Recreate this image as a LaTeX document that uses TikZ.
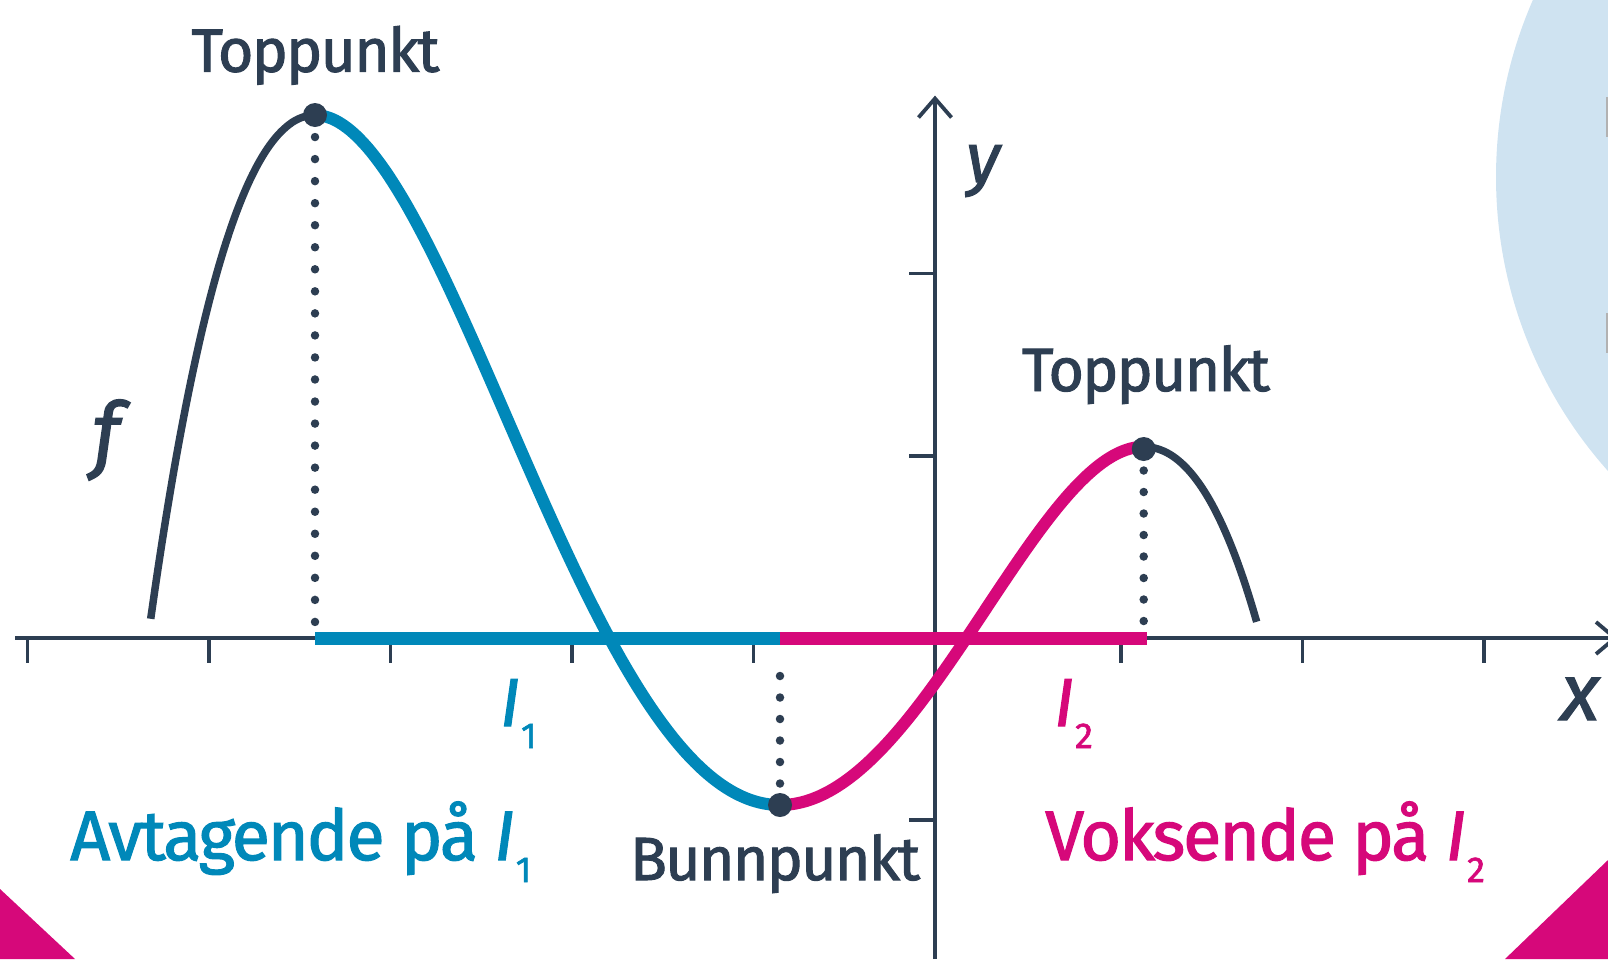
\documentclass[tikz,border=0pt]{standalone}
\usepackage{fontspec}
\setmainfont{Fira Sans}[FakeBold=1.6, LetterSpace=-3]
\definecolor{navy}{RGB}{45,62,82}
\definecolor{fblue}{RGB}{0,136,185}
\definecolor{fmag}{RGB}{214,8,122}
\definecolor{lblue}{RGB}{207,227,241}
\tikzset{
  axisline/.style={navy, line width=3.8pt},
  dotline/.style={navy, line width=8.5pt, line cap=round, dash pattern=on 0pt off 21.5pt},
  bigdot/.style={circle, fill=navy, minimum size=24pt, inner sep=0pt},
  lab/.style={navy, inner sep=0pt, font=\fontsize{61}{61}\selectfont},
  biglab/.style={inner sep=0pt, font=\fontsize{70}{70}\selectfont},
  band/.style={line width=12.7pt},
}
\newcommand{\subdigit}[1]{\kern1pt\raisebox{-22pt}{\fontsize{36}{36}\selectfont\upshape #1}}
\begin{document}
\begin{tikzpicture}[x=1pt,y=-1pt,
  declare function={f(\x)=((((-0.10321*(\x)-0.42935)*(\x)+0.41144)*(\x)+1.38504)*(\x)-0.2498);}]
\path[use as bounding box] (0,0) rectangle (1608,959);
\clip (0,0) rectangle (1608,959);
% background decorations
\fill[lblue] (1938,177) circle[radius=442];
\fill[gray!60] (1606,97) rectangle (1608,137);
\fill[gray!60] (1606,313) rectangle (1608,353);
\fill[fmag] (0,889) -- (75,959) -- (0,959) -- cycle;
\fill[fmag] (1608,860) -- (1505,959) -- (1608,959) -- cycle;
% axes
\coordinate (xstart) at (15,638);
\coordinate (xtip) at (1615,638);
\coordinate (ystart) at (935,959);
\coordinate (ytip) at (935,98.5);
\draw[axisline] (xstart) -- (xtip);
\draw[axisline, line join=miter] (1596,622) -- (xtip) -- (1596,654);
\draw[axisline] (ystart) -- (ytip);
\draw[axisline, line join=miter] (918.5,117.5) -- (ytip) -- (951.5,117.5);
\foreach \tx in {27.5,209,390.5,572,753.5,1121,1302.5,1484}
  \draw[axisline] (\tx,638) -- (\tx,663);
\foreach \ty in {273.5,456,820}
  \draw[axisline] (909,\ty) -- (935,\ty);
% interval bands
\coordinate (b0) at (315,638.5);
\coordinate (b1) at (780,638.5);
\coordinate (b2) at (1146.5,638.5);
\draw[band, fblue] (b0) -- (b1);
\draw[band, fmag] (b1) -- (b2);
% graph
\begin{scope}[shift={(935pt,-638pt)}, x=181.5pt, y=181.5pt]
\draw[navy, line width=7.5pt] plot[domain=-4.3212:-3.416, samples=30, smooth] (\x,{f(\x)});
\draw[fblue, line width=12pt] plot[domain=-3.416:-0.854, samples=80, smooth] (\x,{f(\x)});
\draw[fmag, line width=12pt] plot[domain=-0.854:1.150, samples=60, smooth] (\x,{f(\x)});
\draw[navy, line width=7.5pt] plot[domain=1.150:1.7725, samples=30, smooth] (\x,{f(\x)});
\end{scope}
% extreme points
\node[bigdot] (top1) at (315,115) {};
\node[bigdot] (bot) at (780,805) {};
\node[bigdot] (top2) at (1143.7,449) {};
\coordinate (d1) at (315,623);
\coordinate (d2) at (780,655);
\coordinate (d3) at (1143.7,621);
\draw[dotline, dash pattern=on 0pt off 22.04pt] (top1.center) -- (d1);
\draw[dotline] (bot.center) -- (d2);
\draw[dotline] (top2.center) -- (d3);
% labels
\node[lab, anchor=base] (tp1) at (315.5,71.7) {Toppunkt};
\node[lab, anchor=base] (tp2) at (1146,391) {Toppunkt};
\node[lab, anchor=base] (bp) at (775,880) {Bunnpunkt};
\node[biglab, fblue, anchor=base west] (avt) at (70,860) {Avtagende på {\itshape I}\subdigit{1}};
\node[biglab, fmag, anchor=base west] (vok) at (1045,860) {Voksende på {\itshape I}\subdigit{2}};
\node[biglab, fblue, anchor=base west, font=\fontsize{68}{68}\selectfont] (i1) at (500,726) {{\itshape I}\subdigit{1}};
\node[biglab, fmag, anchor=base west, font=\fontsize{68}{68}\selectfont] (i2) at (1054,726) {{\itshape I}\subdigit{2}};
\node[navy, inner sep=0pt, font=\itshape\fontsize{84}{84}\selectfont] (flab) at (106,440) {f};
\node[navy, inner sep=0pt, anchor=base, font=\itshape\fontsize{80}{80}\selectfont] (xlab) at (1580,720) {x};
\node[navy, inner sep=0pt, anchor=base, font=\itshape\fontsize{70}{70}\selectfont] (ylab) at (983,182) {y};
\end{tikzpicture}
\end{document}
